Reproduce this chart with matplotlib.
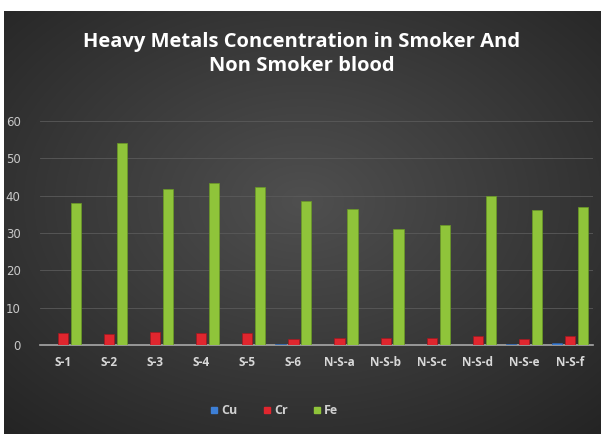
import numpy as np
import matplotlib
matplotlib.use("Agg")
import matplotlib.pyplot as plt
from matplotlib.lines import Line2D

samples = ["S-1", "S-2", "S-3", "S-4", "S-5", "S-6",
           "N-S-a", "N-S-b", "N-S-c", "N-S-d", "N-S-e", "N-S-f"]
cu = [0.1, 0.1, 0.1, 0.1, 0.1, 0.4, 0.1, 0.1, 0.1, 0.1, 0.3, 0.5]
cr = [3.3, 3.0, 3.5, 3.2, 3.1, 1.5, 2.0, 2.0, 1.8, 2.3, 1.7, 2.3]
fe = [38.0, 54.0, 41.8, 43.5, 42.3, 38.7, 36.3, 31.0, 32.2, 40.0, 36.2, 37.0]
yticks = [0, 10, 20, 30, 40, 50, 60]

W, H = 603, 434
fig = plt.figure(figsize=(W / 100, H / 100), dpi=100, facecolor="white")

# dark radial-gradient panel behind everything
bg = fig.add_axes([4 / W, 0, 597 / W, 423 / H])
bg.set_axis_off()
yy, xx = np.mgrid[0:1:200j, 0:1:300j]
r = np.sqrt(((xx - 0.5) / 0.75) ** 2 + ((yy - 0.45) / 0.75) ** 2)
shade = np.clip(0.31 - 0.17 * r, 0.14, 0.31)
bg.imshow(np.dstack([shade] * 3), aspect="auto", extent=[0, 1, 0, 1],
          interpolation="bicubic")

ax = fig.add_axes([40 / W, 89 / H, 553 / W, 224 / H])
ax.set_facecolor("none")
x = np.arange(len(samples))
w = 0.22
ax.bar(x - 0.28, cu, w, color="#3d7fd6", edgecolor="#2a5fa8", lw=0.5, zorder=3)
ax.bar(x, cr, w, color="#e0262e", edgecolor="#a01820", lw=0.5, zorder=3)
ax.bar(x + 0.28, fe, w, color="#8fc43a", edgecolor="#6a9a25", lw=0.5, zorder=3)

ax.set_xlim(-0.5, len(samples) - 0.5)
ax.set_ylim(0, 60)
ax.set_yticks(yticks)
ax.grid(axis="y", color="#5a5a5a", lw=0.6, zorder=0)
for s in ["top", "right", "left"]:
    ax.spines[s].set_visible(False)
ax.spines["bottom"].set_color("#a8a8a8")
ax.spines["bottom"].set_linewidth(1.2)
ax.tick_params(length=0)
ax.tick_params(axis="y", colors="#c8c8c8", labelsize=8.5, pad=14)
ax.set_xticks(x)
ax.set_xticklabels(samples, color="#d8d8d8", fontsize=8.5,
                   fontweight="bold", family="Open Sans")
ax.tick_params(axis="x", pad=8)

fig.text(0.5, 0.876, "Heavy Metals Concentration in Smoker And\nNon Smoker blood",
         ha="center", va="center", color="white", fontsize=14.5,
         fontweight="bold", family="Open Sans", linespacing=1.3)

handles = [Line2D([], [], ls="none", marker="s", ms=5, color=c)
           for c in ["#3d7fd6", "#e0262e", "#8fc43a"]]
leg = fig.legend(handles, ["Cu", "Cr", "Fe"], loc="center",
                 bbox_to_anchor=(0.455, 0.053), ncol=3, frameon=False,
                 handlelength=0.6, handletextpad=0.3, columnspacing=2.0,
                 prop={"family": "Open Sans", "weight": "bold", "size": 9})
for t in leg.get_texts():
    t.set_color("#d0d0d0")

fig.savefig("out.png", dpi=100, facecolor="white")
